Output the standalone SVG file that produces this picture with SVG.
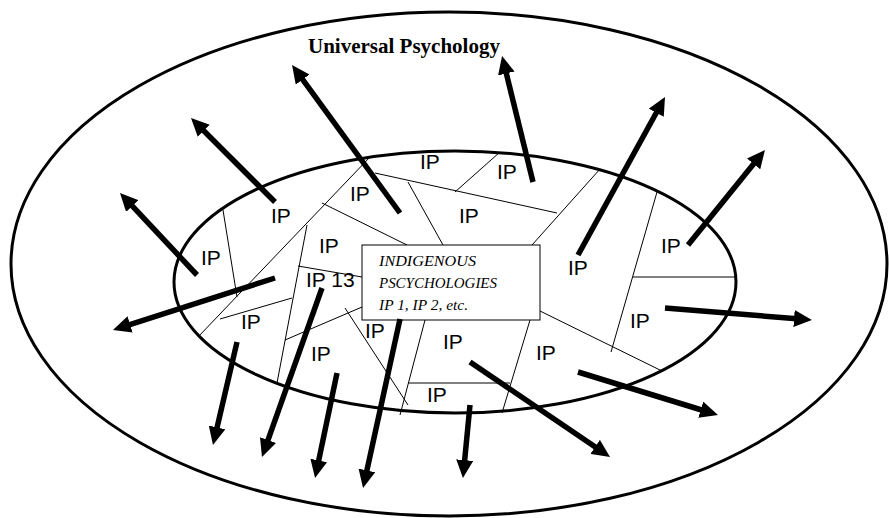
<svg xmlns="http://www.w3.org/2000/svg" width="889" height="518" viewBox="0 0 889 518">
<style>
.ell{fill:none;stroke:#000;stroke-width:3}
.part{stroke:#000;stroke-width:1;fill:none}
.ip{font-family:"Liberation Sans",Arial,sans-serif;font-size:21px;fill:#000}
.title{font-family:"Liberation Serif","Times New Roman",serif;font-size:21px;font-weight:bold;fill:#000}
.box{fill:#fff;stroke:#000;stroke-width:1}
.boxt{font-family:"Liberation Serif","Times New Roman",serif;font-style:italic;font-size:15px;fill:#000}
.arr{stroke:#000;stroke-width:5.5;fill:none;marker-end:url(#ah)}
</style>
<defs>
<marker id="ah" markerUnits="userSpaceOnUse" viewBox="0 0 18 17" markerWidth="18" markerHeight="17" refX="6" refY="8.5" orient="auto">
<path d="M0,0 L18,8.5 L0,17 z" fill="#000"/>
</marker>
</defs>
<rect width="889" height="518" fill="#fff"/>
<g id="universal">
<ellipse class="ell" cx="449" cy="264" rx="438" ry="252"/>
<text class="title" x="308" y="53">Universal Psychology</text>
</g>
<g id="indigenous">
<ellipse class="ell" cx="455" cy="282" rx="281" ry="131"/>
<g id="partitions">
<line class="part" x1="223" y1="210" x2="237" y2="297"/>
<line class="part" x1="370" y1="157" x2="198" y2="337"/>
<line class="part" x1="375" y1="173" x2="557" y2="213"/>
<line class="part" x1="408" y1="182" x2="443" y2="245"/>
<line class="part" x1="455" y1="192" x2="500" y2="152"/>
<line class="part" x1="532" y1="245" x2="600" y2="169"/>
<line class="part" x1="657" y1="192" x2="611" y2="352"/>
<line class="part" x1="633" y1="277" x2="735" y2="277"/>
<line class="part" x1="540" y1="311" x2="662" y2="371"/>
<line class="part" x1="425" y1="320" x2="400" y2="415"/>
<line class="part" x1="530" y1="320" x2="502" y2="413"/>
<line class="part" x1="408" y1="383" x2="510" y2="383"/>
<line class="part" x1="345" y1="308" x2="408" y2="405"/>
<line class="part" x1="362" y1="307" x2="285" y2="340"/>
<line class="part" x1="307" y1="225" x2="277" y2="383"/>
<line class="part" x1="298" y1="266" x2="362" y2="277"/>
<line class="part" x1="322" y1="203" x2="407" y2="245"/>
<line class="part" x1="220" y1="319" x2="292" y2="298"/>
</g>
</g>
<g id="box">
<rect class="box" x="362" y="245" width="178" height="75"/>
<text class="boxt" x="379" y="266" textLength="97" lengthAdjust="spacingAndGlyphs">INDIGENOUS</text>
<text class="boxt" x="379" y="288" textLength="118" lengthAdjust="spacingAndGlyphs">PSCYCHOLOGIES</text>
<text class="boxt" x="379" y="310" textLength="89" lengthAdjust="spacingAndGlyphs">IP 1, IP 2, etc.</text>
</g>
<g id="ip-labels">
<g id="ip1"><text class="ip" x="271" y="223">IP</text></g>
<g id="ip2"><text class="ip" x="350" y="201">IP</text></g>
<g id="ip3"><text class="ip" x="201" y="265">IP</text></g>
<g id="ip4"><text class="ip" x="319" y="253">IP</text></g>
<g id="ip13"><text class="ip" x="306" y="287">IP 13</text></g>
<g id="ip5"><text class="ip" x="420" y="169">IP</text></g>
<g id="ip6"><text class="ip" x="497" y="179">IP</text></g>
<g id="ip7"><text class="ip" x="459" y="223">IP</text></g>
<g id="ip8"><text class="ip" x="568" y="275">IP</text></g>
<g id="ip9"><text class="ip" x="661" y="253">IP</text></g>
<g id="ip10"><text class="ip" x="241" y="329">IP</text></g>
<g id="ip11"><text class="ip" x="311" y="361">IP</text></g>
<g id="ip12"><text class="ip" x="365" y="338">IP</text></g>
<g id="ip14"><text class="ip" x="443" y="349">IP</text></g>
<g id="ip15"><text class="ip" x="427" y="402">IP</text></g>
<g id="ip16"><text class="ip" x="630" y="328">IP</text></g>
<g id="ip17"><text class="ip" x="536" y="360">IP</text></g>
</g>
<g id="connectors">
<line class="arr" x1="275" y1="202" x2="199.5" y2="126.5"/>
<line class="arr" x1="197" y1="275" x2="128.2" y2="201.7"/>
<line class="arr" x1="275" y1="278" x2="124.4" y2="326.3"/>
<line class="arr" x1="237" y1="342" x2="215.7" y2="433.3"/>
<line class="arr" x1="322" y1="288" x2="266" y2="445.7"/>
<line class="arr" x1="337" y1="373" x2="317.5" y2="466.3"/>
<line class="arr" x1="400" y1="319" x2="365.6" y2="476.3"/>
<line class="arr" x1="470" y1="405" x2="464.1" y2="466.1"/>
<line class="arr" x1="470" y1="362" x2="600.1" y2="450.3"/>
<line class="arr" x1="578" y1="372" x2="706.5" y2="411.5"/>
<line class="arr" x1="665" y1="308" x2="800" y2="319"/>
<line class="arr" x1="688" y1="245" x2="757.4" y2="159.3"/>
<line class="arr" x1="578" y1="255" x2="659.2" y2="107.5"/>
<line class="arr" x1="533" y1="182" x2="504.9" y2="67.7"/>
<line class="arr" x1="400" y1="213" x2="299.1" y2="74.7"/>
</g>
</svg>
